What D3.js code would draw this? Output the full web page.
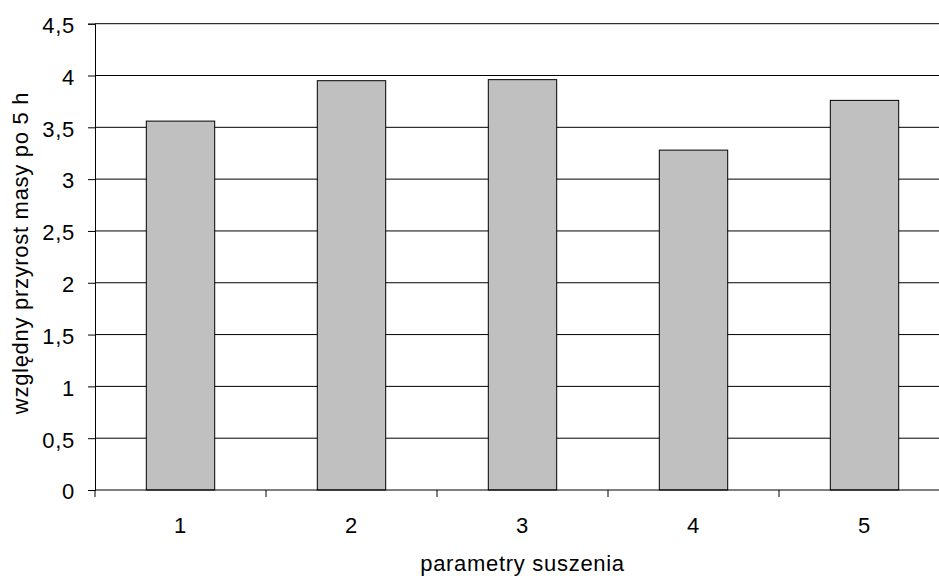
<!DOCTYPE html>
<html>
<head>
<meta charset="utf-8">
<script src="https://cdn.jsdelivr.net/npm/d3@7"></script>
<style>
    body { margin: 0; background: #fff; }
    text { font-family: "Liberation Sans", Arial, sans-serif; font-size: 22px; letter-spacing: 0.7px; fill: #000; }
</style>
</head>
<body>
<div id="chart"></div>
<script>
const categories = ["1", "2", "3", "4", "5"];
const values = [3.56, 3.95, 3.96, 3.28, 3.76];
const yTicks = [0, 0.5, 1, 1.5, 2, 2.5, 3, 3.5, 4, 4.5];
const yTitle = "względny przyrost masy po 5 h";
const xTitle = "parametry suszenia";

const width = 939, height = 576;
const plotLeft = 95, plotRight = 950, plotTop = 23.7, plotBottom = 490;

const svg = d3.select("#chart").append("svg")
    .attr("width", width)
    .attr("height", height);

const x = d3.scaleBand().domain(categories).range([plotLeft, plotRight]).paddingInner(0.6).paddingOuter(0.3);
const xBand = d3.scaleBand().domain(categories).range([plotLeft, plotRight]);
const y = d3.scaleLinear().domain([0, 4.5]).range([plotBottom, plotTop]);

// gridlines
svg.append("g")
    .selectAll("line")
    .data(yTicks.filter(d => d > 0))
    .join("line")
    .attr("x1", plotLeft).attr("x2", plotRight)
    .attr("y1", d => y(d)).attr("y2", d => y(d))
    .attr("stroke", "#000")
    .attr("stroke-width", 1);

// bars
svg.append("g")
    .selectAll("rect")
    .data(values)
    .join("rect")
    .attr("x", (d, i) => x(categories[i]))
    .attr("width", x.bandwidth())
    .attr("y", d => y(d))
    .attr("height", d => y(0) - y(d))
    .attr("fill", "#c0c0c0")
    .attr("stroke", "#000")
    .attr("stroke-width", 1);

// y axis
const fmt = d => String(d).replace(".", ",");
const yAxis = svg.append("g")
    .attr("transform", `translate(${plotLeft},0)`)
    .call(d3.axisLeft(y).tickValues(yTicks).tickFormat(fmt).tickSize(7).tickPadding(13));
yAxis.select(".domain").attr("stroke", "#000");
yAxis.selectAll(".tick line").attr("stroke", "#000");
yAxis.selectAll(".tick text").attr("font-size", null).attr("font-family", null).attr("dy", "0.4em");

// x axis: ticks on the band boundaries, labels at the band centres
const xAxis = svg.append("g")
    .attr("transform", `translate(0,${plotBottom})`);
xAxis.append("line")
    .attr("x1", plotLeft).attr("x2", plotRight)
    .attr("stroke", "#000");
xAxis.selectAll(".xtick")
    .data(categories)
    .join("line")
    .attr("class", "xtick")
    .attr("x1", d => xBand(d))
    .attr("x2", d => xBand(d))
    .attr("y1", 0).attr("y2", 7)
    .attr("stroke", "#000");
xAxis.selectAll(".xlabel")
    .data(categories)
    .join("text")
    .attr("class", "xlabel")
    .attr("x", d => xBand(d) + xBand.bandwidth() / 2)
    .attr("y", 43)
    .attr("text-anchor", "middle")
    .text(d => d);

// axis titles
svg.append("text")
    .attr("x", (plotLeft + plotRight) / 2)
    .attr("y", 571)
    .attr("text-anchor", "middle")
    .text(xTitle);

svg.append("text")
    .attr("transform", `translate(28,253) rotate(-90)`)
    .attr("text-anchor", "middle")
    .text(yTitle);
</script>
</body>
</html>
